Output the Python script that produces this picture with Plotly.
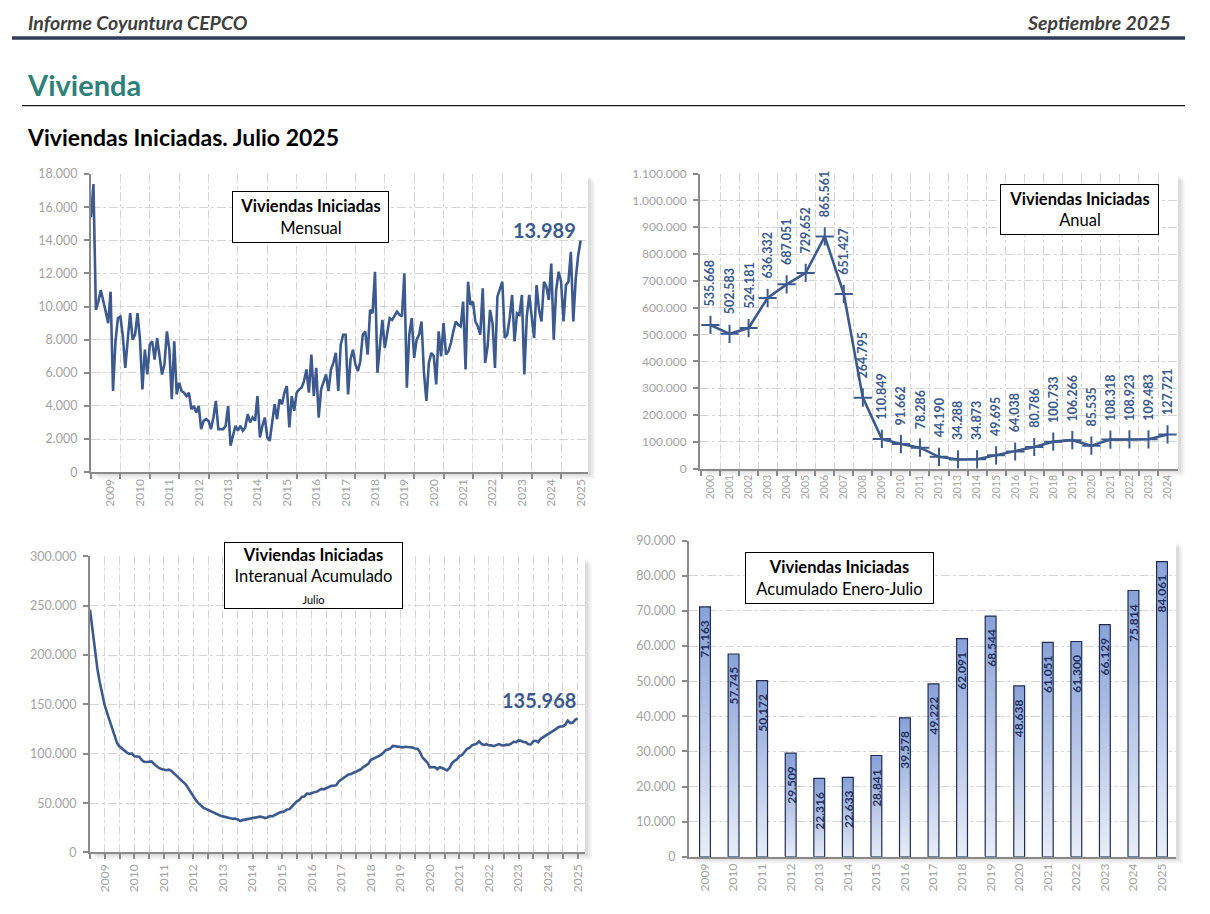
import plotly.graph_objects as go

# page is 1210x914; the default 8px body margin is left in place, so the
# figure is 1194x898 and page pixels are converted with an 8px offset.
PAGE_W, PAGE_H = 1210, 914
OFF = 8
W, H = PAGE_W - 2 * OFF, PAGE_H - 2 * OFF
# small vertical calibration of the photographed page
VY0, VK = 7.6, 0.983

FONT = "Lato"
BLUE = "#3D5A8E"
NAVY = "#1F2D4F"
GRID = "#D4D4D4"
TICKC = "#A3A3A3"
AXC = "#8A8A8A"

# ---------------- data ----------------
# Monthly housing starts, Nov 2008 .. Jul 2025
monthly = [
    15400, 17400,
    9800, 10300, 11000, 10400, 9700, 9000, 10900, 4900, 7900, 9300, 9400, 8200,
    6300, 8000, 9600, 8000, 8300, 9600, 8000, 5000, 7400, 5900, 7700, 7900,
    6800, 8100, 6900, 5900, 6500, 8500, 7400, 4400, 7900, 4700, 5400, 4900,
    4800, 4600, 4800, 3800, 4000, 3600, 4000, 2600, 3100, 3200, 3100, 2600,
    3300, 4300, 2600, 2600, 2600, 2800, 4000, 1600, 2300, 2800, 2500, 2800,
    2500, 2700, 3500, 3000, 3300, 3100, 4600, 2100, 2800, 3300, 2100, 1900,
    3000, 4100, 3200, 4400, 4100, 4800, 5200, 2700, 4600, 3700, 4800, 5000,
    5100, 5500, 6200, 4800, 7100, 4600, 6300, 3300, 5000, 5500, 5900, 4900,
    6200, 6600, 7200, 4900, 7700, 8300, 8300, 4700, 6800, 7400, 6500, 6100,
    6700, 8300, 8500, 7100, 9800, 9600, 12100, 6000, 7700, 9200, 7500, 8300,
    9300, 9200, 9500, 9700, 9500, 9400, 12000, 5100, 8300, 9300, 6900, 8000,
    8300, 9100, 6000, 4300, 6600, 7200, 7000, 5300, 8500, 7000, 9000, 7100,
    7300, 7800, 8500, 9100, 8900, 8800, 10300, 6200, 11500, 10100, 10300, 9100,
    8800, 8300, 11100, 6600, 7600, 9800, 9000, 6300, 10600, 11000, 11500, 8100,
    8300, 9300, 10700, 7900, 9600, 9500, 10700, 5900, 9400, 10700, 9500, 8100,
    11300, 9800, 9100, 11500, 11200, 10400, 12600, 8000, 11000, 12100, 11500, 9100,
    11300, 11500, 13300, 9100, 11700, 13100, 13989,
]

# 12-month accumulated housing starts, Jan 2009 .. Jul 2025
interanual = [
    246000, 226000, 204000, 186000, 172000, 160000, 149000, 141000, 134000, 126000, 118000, 110849,
    107300, 105000, 103600, 101200, 99800, 100400, 97500, 97600, 97100, 93700, 92000, 91662,
    92200, 92300, 89600, 87500, 85700, 84600, 84000, 83400, 83900, 82700, 80400, 78286,
    76000, 73500, 71000, 68500, 64500, 61000, 57000, 53000, 50000, 47500, 45500, 44190,
    43000, 42200, 40500, 39300, 38000, 37200, 36600, 35800, 35100, 34700, 34200, 34288,
    33500, 31900, 32800, 33200, 33900, 34200, 34800, 35300, 35800, 36300, 35900, 34873,
    35500, 36900, 36600, 38000, 38800, 40500, 41100, 41700, 43500, 43900, 46600, 49695,
    51800, 53200, 56200, 56600, 59600, 59400, 60500, 61100, 61500, 63300, 64400, 64038,
    65400, 66500, 67500, 67600, 68200, 71900, 73900, 75300, 77100, 79000, 79600, 80786,
    81300, 83000, 84300, 86500, 88600, 89900, 93700, 95000, 95900, 97700, 98700, 100733,
    103500, 104400, 105400, 108000, 107700, 107500, 107400, 106500, 107100, 107200, 106600, 106266,
    105300, 105200, 101700, 96300, 93400, 91200, 86200, 86400, 86600, 84300, 86400, 85535,
    84500, 83200, 85700, 90500, 92800, 94400, 97700, 98600, 101600, 104700, 106000, 108318,
    109500, 110000, 112600, 110100, 108800, 109800, 108500, 108600, 107700, 108600, 109800, 108923,
    108300, 109300, 108900, 110200, 112200, 111900, 113600, 113200, 112000, 111700, 109700, 109483,
    112700, 113200, 111600, 115200, 116800, 117700, 119600, 121700, 123300, 124700, 126700, 127721,
    127700, 129400, 133600, 131200, 131700, 134400, 135968,
]

annual_years = list(range(2000, 2025))
annual = [535668, 502583, 524181, 636332, 687051, 729652, 865561, 651427, 264795,
          110849, 91662, 78286, 44190, 34288, 34873, 49695, 64038, 80786, 100733,
          106266, 85535, 108318, 108923, 109483, 127721]

ytd_years = list(range(2009, 2026))
ytd = [71163, 57745, 50172, 29509, 22316, 22633, 28841, 39578, 49222, 62091,
       68544, 48638, 61051, 61300, 66129, 75814, 84061]

year_labels = [str(y) for y in range(2009, 2026)]


def fmt(v):
    return f"{v:,}".replace(",", ".")


def fx(px):
    return (px - OFF) / W


def fy(py):
    py = (py - VY0) / VK
    return 1 - (py - OFF) / H


# plot areas in page pixels: (x0, y0, x1, y1)
A1 = (91, 173.5, 588, 471.5)
A2 = (700, 173, 1178, 468)
A3 = (90, 555.7, 585, 851.7)
A4 = (689, 540, 1176, 856)

fig = go.Figure()

fig.add_trace(go.Scatter(x=list(range(len(monthly))), y=monthly, mode="lines",
                         line=dict(color=BLUE, width=2.6), xaxis="x", yaxis="y",
                         hoverinfo="skip", showlegend=False))
fig.add_trace(go.Scatter(x=annual_years, y=annual, mode="lines+markers",
                         line=dict(color=BLUE, width=2.6),
                         marker=dict(symbol="cross-thin", size=13,
                                     line=dict(color=BLUE, width=2)),
                         xaxis="x2", yaxis="y2", hoverinfo="skip", showlegend=False))
fig.add_trace(go.Scatter(x=list(range(len(interanual))), y=interanual, mode="lines",
                         line=dict(color=BLUE, width=2.6), xaxis="x3", yaxis="y3",
                         hoverinfo="skip", showlegend=False))
HW = 0.19
for yr, v in zip(ytd_years, ytd):
    fig.add_trace(go.Scatter(
        x=[yr - HW, yr + HW, yr + HW, yr - HW, yr - HW],
        y=[0, 0, v, v, 0], mode="lines", fill="toself",
        fillgradient=dict(type="vertical", start=0, stop=v,
                          colorscale=[[0, "#EBEFF8"], [1, "#8AA2D8"]]),
        line=dict(color=NAVY, width=1.2), xaxis="x4", yaxis="y4",
        hoverinfo="skip", showlegend=False))


def yax(area, rng, dt, anchor, size=12.5):
    x0, y0, x1, y1 = area
    return dict(domain=[fy(y1), fy(y0)], anchor=anchor, range=rng, dtick=dt, tick0=0,
                tickformat=",d", showgrid=True, gridcolor=GRID, griddash="dashdot",
                gridwidth=1.3, ticks="outside", ticklen=5, tickwidth=1.5, tickcolor=AXC,
                showline=True, linecolor=AXC, linewidth=2, zeroline=False,
                ticklabelstandoff=4,
                tickfont=dict(family=FONT, size=size, color=TICKC), fixedrange=True)


def xbase(area, anchor):
    x0, y0, x1, y1 = area
    return dict(domain=[fx(x0), fx(x1)], anchor=anchor, showline=True, linecolor=AXC,
                linewidth=2, zeroline=False, tickangle=-90, fixedrange=True,
                tickfont=dict(family=FONT, size=12, color=TICKC))


minor_grid = dict(showgrid=True, gridcolor=GRID, griddash="dashdot", gridwidth=1.3,
                  ticks="outside", ticklen=5, tickwidth=1.5, tickcolor=AXC)

x1ax = xbase(A1, "y")
x1ax.update(range=[0, 203], tickmode="array",
            tickvals=[8 + 12 * k for k in range(len(year_labels))], ticktext=year_labels,
            ticks="", showgrid=False,
            minor=dict(tickmode="array", tickvals=list(range(0, len(monthly), 12)), **minor_grid))

x2ax = xbase(A2, "y2")
x2ax.update(range=[1999.45, 2024.55], tickmode="array", tickvals=annual_years,
            ticktext=[str(y) for y in annual_years], ticks="", showgrid=False,
            tickfont=dict(family=FONT, size=10.5, color=TICKC),
            minor=dict(tickmode="array", tickvals=[y + 0.5 for y in annual_years[:-1]] + [1999.5],
                       **minor_grid))

x3ax = xbase(A3, "y3")
x3ax.update(range=[0, 201], tickmode="array",
            tickvals=[6 + 12 * k for k in range(len(year_labels))], ticktext=year_labels,
            ticks="outside", ticklen=5, tickwidth=1.5, tickcolor=AXC,
            showgrid=True, gridcolor=GRID, griddash="dashdot", gridwidth=1.3,
            minor=dict(tickmode="array", tickvals=list(range(0, len(interanual), 6)), **minor_grid))

x4ax = xbase(A4, "y4")
x4ax.update(range=[2008.44, 2025.49], tickmode="array", tickvals=ytd_years,
            ticktext=year_labels, ticks="", showgrid=False)

fig.update_layout(
    width=W, height=H, autosize=False,
    margin=dict(l=0, r=0, t=0, b=0),
    paper_bgcolor="white", plot_bgcolor="rgba(0,0,0,0)",
    separators=",.",
    font=dict(family=FONT),
    xaxis=x1ax, yaxis=yax(A1, [0, 18000], 2000, "x"),
    xaxis2=x2ax, yaxis2=yax(A2, [0, 1100000], 100000, "x2", size=12),
    xaxis3=x3ax, yaxis3=yax(A3, [0, 300000], 50000, "x3"),
    xaxis4=x4ax, yaxis4=yax(A4, [0, 90000], 10000, "x4"),
)

shapes = []
for (x0, y0, x1, y1) in (A1, A2, A3, A4):
    for k, op in ((7, 0.05), (5, 0.06), (3, 0.08)):
        shapes.append(dict(type="rect", xref="paper", yref="paper", layer="below",
                           x0=fx(x0 + k), x1=fx(x1 + k), y0=fy(y1 + k), y1=fy(y0 + k),
                           fillcolor=f"rgba(60,60,60,{op})", line=dict(width=0)))
    shapes.append(dict(type="rect", xref="paper", yref="paper", layer="below",
                       x0=fx(x0), x1=fx(x1), y0=fy(y1), y1=fy(y0),
                       fillcolor="white", line=dict(width=0)))
shapes.append(dict(type="line", xref="paper", yref="paper", x0=fx(12), x1=fx(1185),
                   y0=fy(37.5), y1=fy(37.5), line=dict(color="#2F3C5A", width=3.5)))
shapes.append(dict(type="line", xref="paper", yref="paper", x0=fx(22), x1=fx(1185),
                   y0=fy(105), y1=fy(105), line=dict(color="#1A1A1A", width=1.3)))
fig.update_layout(shapes=shapes)

ann = []
ann.append(dict(xref="paper", yref="paper", x=fx(26), y=fy(22), xanchor="left", yanchor="middle",
                text="<b><i>Informe Coyuntura CEPCO</i></b>", showarrow=False,
                font=dict(family=FONT, size=19.5, color="#404040")))
ann.append(dict(xref="paper", yref="paper", x=fx(1173), y=fy(22), xanchor="right", yanchor="middle",
                text="<b><i>Septiembre 2025</i></b>", showarrow=False,
                font=dict(family=FONT, size=19.5, color="#404040")))
ann.append(dict(xref="paper", yref="paper", x=fx(25), y=fy(84), xanchor="left", yanchor="middle",
                text="<b>Vivienda</b>", showarrow=False,
                font=dict(family=FONT, size=29, color="#2F7F7A")))
ann.append(dict(xref="paper", yref="paper", x=fx(25), y=fy(136), xanchor="left", yanchor="middle",
                text="<b>Viviendas Iniciadas. Julio 2025</b>", showarrow=False,
                font=dict(family=FONT, size=23, color="black")))


def box(cx, cy, w, h, text):
    return dict(xref="paper", yref="paper", x=fx(cx), y=fy(cy), xanchor="center",
                yanchor="middle", text=text, showarrow=False, bordercolor="black",
                borderwidth=1, borderpad=0, bgcolor="white", width=w - 2, height=h - 2,
                align="center", font=dict(family=FONT, size=16.5, color="black"))


ann.append(box(310.5, 216, 157, 52, "<b>Viviendas Iniciadas</b><br>Mensual"))
ann.append(box(1079.5, 208.5, 159, 51, "<b>Viviendas Iniciadas</b><br>Anual"))
ann.append(box(313.5, 574.5, 179, 67,
               "<b>Viviendas Iniciadas</b><br>Interanual Acumulado<br>"
               "<span style='font-size:11px'>Julio</span>"))
ann.append(box(839.5, 577, 189, 52, "<b>Viviendas Iniciadas</b><br>Acumulado Enero-Julio"))

ann.append(dict(xref="x", yref="y", x=len(monthly) - 1, y=monthly[-1], xanchor="right",
                yanchor="bottom", xshift=-3, yshift=-3, showarrow=False,
                text=f"<b>{fmt(monthly[-1])}</b>", font=dict(family=FONT, size=20, color=BLUE)))
ann.append(dict(xref="x3", yref="y3", x=len(interanual) - 1, y=interanual[-1], xanchor="right",
                yanchor="bottom", xshift=0, yshift=4, showarrow=False,
                text=f"<b>{fmt(interanual[-1])}</b>", font=dict(family=FONT, size=20, color=BLUE)))

for yr, v in zip(annual_years, annual):
    ann.append(dict(xref="x2", yref="y2", x=yr, y=v, xanchor="center", yanchor="bottom",
                    yshift=17, textangle=-90, showarrow=False, text=f"<b>{fmt(v)}</b>",
                    font=dict(family=FONT, size=12.5, color=BLUE)))
for yr, v in zip(ytd_years, ytd):
    ann.append(dict(xref="x4", yref="y4", x=yr, y=v, xanchor="center", yanchor="top",
                    yshift=-11, textangle=-90, showarrow=False, text=f"<b>{fmt(v)}</b>",
                    font=dict(family=FONT, size=12, color="#1F3160")))

fig.update_layout(annotations=ann)

fig.write_html("out.html", config={"displayModeBar": False})
